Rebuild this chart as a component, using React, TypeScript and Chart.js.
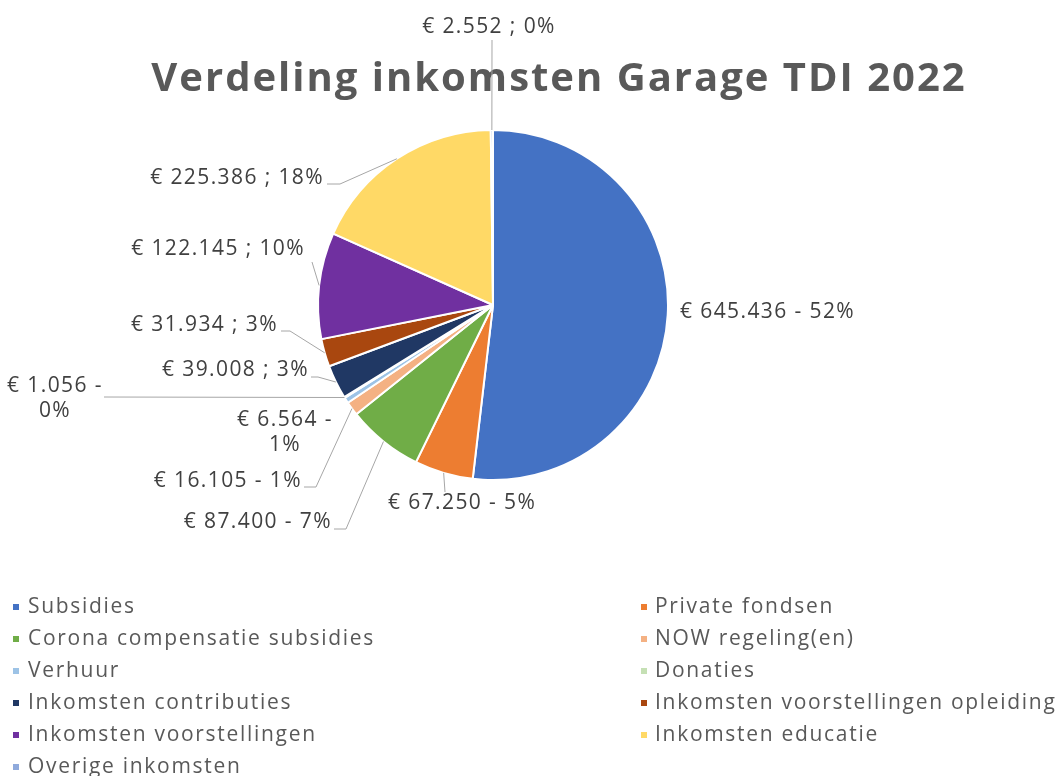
import React, { useEffect, useRef } from "react";
import { Chart, registerables } from "chart.js";

Chart.register(...registerables);

const TITLE = "Verdeling inkomsten Garage TDI 2022";
const categories = [
  "Subsidies",
  "Private fondsen",
  "Corona compensatie subsidies",
  "NOW regeling(en)",
  "Verhuur",
  "Donaties",
  "Inkomsten contributies",
  "Inkomsten voorstellingen opleiding",
  "Inkomsten voorstellingen",
  "Inkomsten educatie",
  "Overige inkomsten",
];
const amounts = [645436, 67250, 87400, 16105, 6564, 1056, 39008, 31934, 122145, 225386, 2552];
const separators = [" - ", " - ", " - ", " - ", " - ", " - ", " ; ", " ; ", " ; ", " ; ", " ; "];
const sliceColors = [
  "#4472C4",
  "#ED7D31",
  "#70AD47",
  "#F4B183",
  "#9DC3E6",
  "#C5E0B4",
  "#203864",
  "#A9470F",
  "#7030A0",
  "#FFD966",
  "#8FAADC",
];

type Pt = [number, number];
type LabelLayout = { x: number; y: number; align: CanvasTextAlign; wrap?: boolean; line: Pt[] | null };

// label placement (layout only)
const labelLayout: LabelLayout[] = [
  { x: 680, y: 312, align: "left", line: null },
  { x: 388, y: 503, align: "left", line: [[445, 492]] },
  { x: 332, y: 522, align: "right", line: [[334, 529], [346, 529]] },
  { x: 302, y: 481, align: "right", line: [[304, 487], [316, 487]] },
  { x: 285, y: 420, align: "center", wrap: true, line: null },
  { x: 55, y: 386, align: "center", wrap: true, line: [[104, 397]] },
  { x: 309, y: 370, align: "right", line: [[311, 377], [318, 377]] },
  { x: 278, y: 325, align: "right", line: [[281, 331], [290, 331]] },
  { x: 305, y: 249, align: "right", line: [[312, 262]] },
  { x: 324, y: 178, align: "right", line: [[327, 184], [340, 184]] },
  { x: 489, y: 27, align: "center", line: [[492, 40]] },
];

const fmt = (n: number) => String(n).replace(/\B(?=(\d{3})+(?!\d))/g, ".");

export default function App() {
  const ref = useRef<HTMLCanvasElement>(null);

  useEffect(() => {
    const canvas = ref.current!;
    const total = amounts.reduce((a, b) => a + b, 0);

    const overlay = {
      id: "overlay",
      afterDraw(chart: any) {
        const ctx: CanvasRenderingContext2D = chart.ctx;
        const meta = chart.getDatasetMeta(0);
        ctx.save();

        // title
        ctx.fillStyle = "#595959";
        ctx.font = 'bold 40px "Open Sans"';
        (ctx as any).letterSpacing = "2px";
        ctx.textAlign = "center";
        ctx.textBaseline = "middle";
        ctx.fillText(TITLE, 559, 80);

        // data labels and leader lines
        const ds = chart.data.datasets[0];
        (ds.data as number[]).forEach((v: number, i: number) => {
          const arc = meta.data[i] as any;
          const p = arc.getProps(["x", "y", "startAngle", "endAngle", "outerRadius"], true);
          const mid = (p.startAngle + p.endAngle) / 2;
          const ax = p.x + p.outerRadius * Math.cos(mid);
          const ay = p.y + p.outerRadius * Math.sin(mid);
          const lay = labelLayout[i];
          if (lay.line) {
            ctx.strokeStyle = "#A6A6A6";
            ctx.lineWidth = 1;
            ctx.beginPath();
            ctx.moveTo(lay.line[0][0], lay.line[0][1]);
            for (let k = 1; k < lay.line.length; k++) ctx.lineTo(lay.line[k][0], lay.line[k][1]);
            ctx.lineTo(ax, ay);
            ctx.stroke();
          }
          const pct = Math.round((v / total) * 100) + "%";
          const lines = lay.wrap
            ? ["€ " + fmt(v) + separators[i].replace(/\s+$/, ""), pct]
            : ["€ " + fmt(v) + separators[i] + pct];
          ctx.fillStyle = "#404040";
          ctx.font = '21px "Open Sans"';
          (ctx as any).letterSpacing = "1.4px";
          ctx.textAlign = lay.align;
          ctx.textBaseline = "middle";
          lines.forEach((t, k) => ctx.fillText(t, lay.x, lay.y + k * 25));
        });

        // legend
        const labels = chart.data.labels as string[];
        const colors = ds.backgroundColor as string[];
        ctx.font = '21px "Open Sans"';
        (ctx as any).letterSpacing = "1.7px";
        ctx.textAlign = "left";
        ctx.textBaseline = "middle";
        labels.forEach((lab, i) => {
          const row = Math.floor(i / 2);
          const col = i % 2;
          const y = 607 + row * 32;
          const mx = col === 0 ? 13 : 641;
          const tx = col === 0 ? 28 : 655;
          ctx.fillStyle = colors[i];
          ctx.fillRect(mx, y - 3, 6, 6);
          ctx.fillStyle = "#595959";
          ctx.fillText(lab, tx, y);
        });
        ctx.restore();
      },
    };

    const chart = new Chart(canvas, {
      type: "pie",
      data: {
        labels: categories,
        datasets: [
          {
            data: amounts,
            backgroundColor: sliceColors,
            borderColor: "#ffffff",
            borderWidth: 2,
          },
        ],
      },
      options: {
        responsive: false,
        animation: false,
        layout: { padding: { top: 129, bottom: 295, left: 317, right: 394 } },
        plugins: {
          legend: { display: false },
          title: { display: false },
          tooltip: { enabled: false },
        },
      },
      plugins: [overlay],
    });
    return () => chart.destroy();
  }, []);

  return (
    <div style={{ position: "absolute", left: 0, top: 0, width: 1063, height: 776, background: "#ffffff" }}>
      <canvas ref={ref} width={1063} height={776} style={{ display: "block" }} />
    </div>
  );
}
